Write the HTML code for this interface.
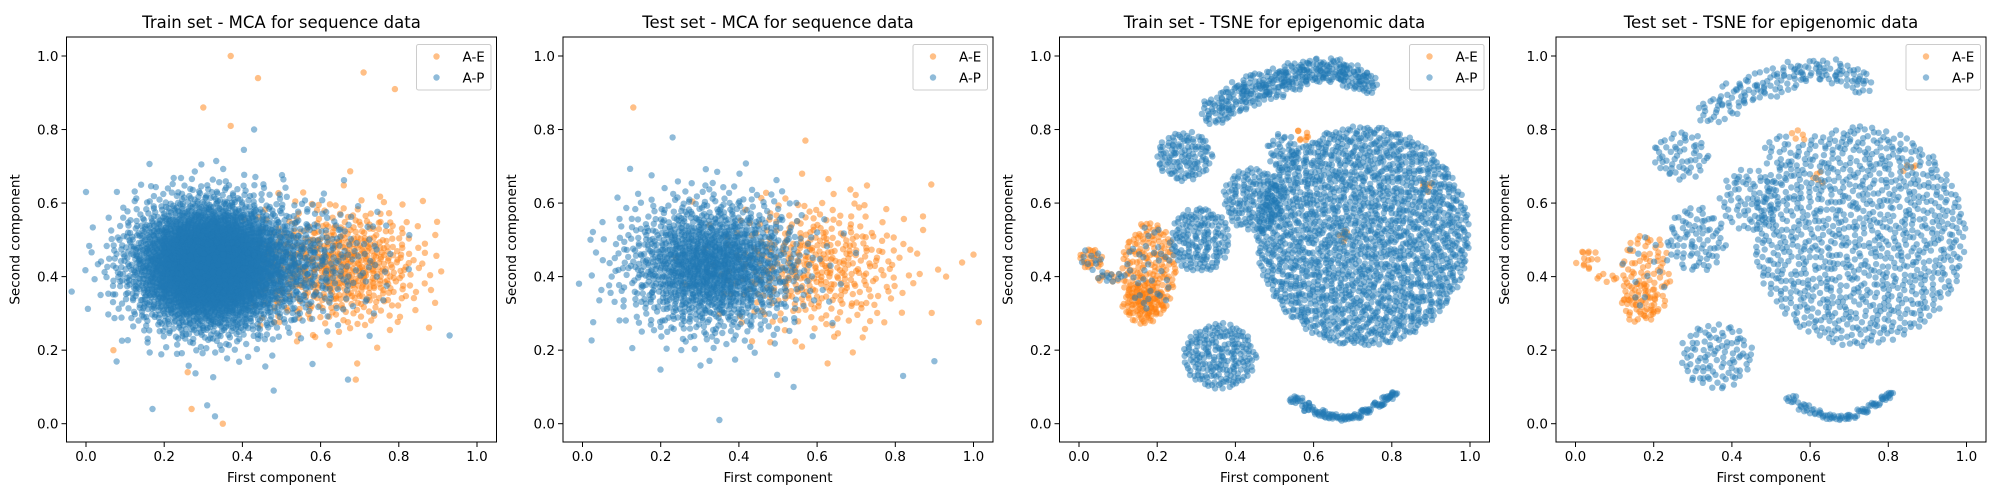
<!DOCTYPE html>
<html><head><meta charset="utf-8">
<style>
html,body{margin:0;padding:0;background:#fff;}
svg{display:block;font-family:"DejaVu Sans","Liberation Sans",sans-serif;}
</style></head>
<body>
<svg id="fig" width="2000" height="500" viewBox="0 0 2000 500"></svg>
<script>
// ---- data: clusters [cx, cy, sx/rx, sy/ry, count] ----
const panelTitles = ["Train set - MCA for sequence data","Test set - MCA for sequence data","Train set - TSNE for epigenomic data","Test set - TSNE for epigenomic data"];
const tickLabels = ["0.0","0.2","0.4","0.6","0.8","1.0"];
const tickValues = [0,0.2,0.4,0.6,0.8,1.0];
const seriesNames = ["A-E","A-P"];

// MCA (gaussian clusters)
const mcaTrainAE = [[0.68,0.43,0.09,0.08,460],[0.52,0.42,0.07,0.08,120]];
const mcaTrainAP = [[0.32,0.43,0.1,0.085,4200],[0.56,0.44,0.1,0.08,300]];
const mcaTrainAEOut = [[0.37,1.0],[0.44,0.94],[0.71,0.955],[0.79,0.91],[0.30,0.86],[0.37,0.81],[0.35,0.0],[0.27,0.04],[0.07,0.2],[0.26,0.14],[0.69,0.12]];
const mcaTrainAPOut = [[0.0,0.63],[0.17,0.04],[0.33,0.02],[0.43,0.8],[0.31,0.05],[0.48,0.09],[0.67,0.12],[0.93,0.24]];
const mcaTestAE = [[0.60,0.43,0.12,0.09,400]];
const mcaTestAP = [[0.33,0.43,0.11,0.09,1500]];
const mcaTestAEOut = [[1.0,0.46],[0.13,0.86],[0.57,0.77],[0.93,0.40]];
const mcaTestAPOut = [[0.35,0.01],[0.82,0.13],[0.90,0.17],[0.54,0.1]];

// TSNE (uniform ellipses)
const tsneTrainAE = [[0.18,0.42,0.07,0.13,180],[0.165,0.33,0.055,0.06,90],[0.03,0.447,0.03,0.03,25],[0.08,0.40,0.04,0.015,10],[0.57,0.78,0.02,0.02,8],[0.89,0.65,0.015,0.02,6],[0.68,0.51,0.015,0.02,6]];
const tsneTrainAP = [[0.35,0.85,0.04,0.04,40],[0.40,0.885,0.04,0.045,45],[0.45,0.91,0.04,0.045,45],[0.50,0.925,0.04,0.045,45],[0.55,0.945,0.04,0.04,45],[0.60,0.96,0.04,0.035,40],[0.65,0.96,0.04,0.035,40],[0.70,0.945,0.04,0.035,40],[0.735,0.925,0.03,0.03,25],
  [0.27,0.728,0.072,0.068,120],[0.445,0.61,0.077,0.086,160],[0.726,0.51,0.273,0.30,2000],[0.52,0.74,0.04,0.05,40],[0.309,0.50,0.077,0.09,170],[0.18,0.42,0.06,0.12,35],[0.03,0.447,0.03,0.03,10],[0.08,0.40,0.04,0.015,12],[0.36,0.184,0.094,0.09,210],
  [0.555,0.065,0.018,0.012,14],[0.585,0.045,0.018,0.012,14],[0.615,0.03,0.018,0.01,14],[0.645,0.02,0.018,0.008,14],[0.675,0.015,0.018,0.007,14],[0.705,0.02,0.018,0.007,14],[0.735,0.035,0.018,0.006,14],[0.765,0.052,0.018,0.006,14],[0.79,0.07,0.015,0.006,12],[0.805,0.082,0.01,0.005,8]];
const tsneTestAE = [[0.18,0.40,0.065,0.12,85],[0.165,0.33,0.05,0.06,40],[0.03,0.447,0.03,0.03,14],[0.09,0.40,0.04,0.015,8],[0.57,0.78,0.02,0.02,5],[0.62,0.67,0.02,0.02,5],[0.85,0.7,0.02,0.02,4]];
const tsneTestAP = [[0.35,0.85,0.04,0.04,18],[0.40,0.885,0.04,0.045,20],[0.45,0.91,0.04,0.045,20],[0.50,0.925,0.04,0.045,20],[0.55,0.945,0.04,0.04,20],[0.60,0.96,0.04,0.035,18],[0.65,0.96,0.04,0.035,18],[0.70,0.945,0.04,0.035,18],[0.735,0.925,0.03,0.03,12],
  [0.27,0.728,0.072,0.068,58],[0.445,0.61,0.077,0.086,75],[0.726,0.51,0.273,0.30,1000],[0.52,0.74,0.04,0.05,18],[0.309,0.50,0.077,0.09,85],[0.18,0.42,0.06,0.12,14],[0.36,0.184,0.094,0.09,100],
  [0.555,0.065,0.018,0.012,9],[0.585,0.045,0.018,0.012,9],[0.615,0.03,0.018,0.01,9],[0.645,0.02,0.018,0.008,9],[0.675,0.015,0.018,0.007,9],[0.705,0.02,0.018,0.007,10],[0.735,0.035,0.018,0.006,10],[0.765,0.052,0.018,0.006,10],[0.79,0.07,0.015,0.006,9],[0.805,0.082,0.01,0.005,6]];

// ---- rendering ----
const NS = "http://www.w3.org/2000/svg";
const svg = document.getElementById("fig");
const panelLeft = [66.5, 563, 1059.5, 1556];
const AX_W = 430, AX_TOP = 37, AX_BOT = 442;
const C_AE = "#ff7f0e", C_AP = "#1f77b4";
let hk = 1;
function halton(i,b){let f=1,r=0;while(i>0){f/=b;r+=f*(i%b);i=Math.floor(i/b);}return r;}
function mk(tag, attrs, parent){const e=document.createElementNS(NS,tag);for(const k in attrs)e.setAttribute(k,attrs[k]);(parent||svg).appendChild(e);return e;}

function xScale(p,v){return panelLeft[p]+19.5+v*391;}
function yScale(v){return 423.7-v*367.7;}

function clusterPoints(cl, kind){
  const pts=[];
  cl.forEach(c=>{
    for(let i=0;i<c[4];i++){
      const u1=halton(hk,2), u2=halton(hk,3); hk++;
      let dx,dy;
      if(kind==="g"){const r=Math.sqrt(-2*Math.log(Math.max(u1,1e-6)));dx=r*Math.cos(2*Math.PI*u2);dy=r*Math.sin(2*Math.PI*u2);}
      else{const r=Math.sqrt(u1);dx=r*Math.cos(2*Math.PI*u2);dy=r*Math.sin(2*Math.PI*u2);}
      pts.push([c[0]+dx*c[2], c[1]+dy*c[3]]);
    }
  });
  return pts;
}

function drawPanel(p, aeCl, apCl, aeOut, apOut, kind){
  const g = mk("g",{});
  
  
  const L = panelLeft[p];
  const clipId="clip"+p;
  const cp=mk("clipPath",{id:clipId},g);
  mk("rect",{x:L,y:AX_TOP,width:AX_W,height:AX_BOT-AX_TOP},cp);
  const pg = mk("g",{"clip-path":"url(#"+clipId+")"},g);
  
  
  const series=[[clusterPoints(aeCl,kind).concat(aeOut),C_AE,"ae"],[clusterPoints(apCl,kind).concat(apOut),C_AP,"ap"]];
  series.forEach(s=>{
    const sg=mk("g",{fill:s[1],"fill-opacity":0.5},pg);
    
    
    s[0].forEach(pt=>{
      mk("circle",{cx:xScale(p,pt[0]).toFixed(1),cy:yScale(pt[1]).toFixed(1),r:3.2},sg);
    });
  });
  const frame=mk("rect",{x:L,y:AX_TOP,width:AX_W,height:AX_BOT-AX_TOP,fill:"none",stroke:"#000","stroke-width":1},g);
  
  
  tickValues.forEach((v,i)=>{
    const x=xScale(p,v);
    mk("line",{x1:x,x2:x,y1:AX_BOT,y2:AX_BOT+5,stroke:"#000"},g);
    const tx=mk("text",{x:x,y:AX_BOT+19,"font-size":13.5,"text-anchor":"middle"},g);
    tx.textContent=tickLabels[i];
    
    
    const y=yScale(v);
    mk("line",{x1:L-5,x2:L,y1:y,y2:y,stroke:"#000"},g);
    const ty=mk("text",{x:L-8,y:y+5,"font-size":13.5,"text-anchor":"end"},g);
    ty.textContent=tickLabels[i];
    
    
  });
  const t=mk("text",{x:L+AX_W/2,y:28,"font-size":16.5,"text-anchor":"middle"},g);
  t.textContent=panelTitles[p];
  
  
  const xl=mk("text",{x:L+AX_W/2,y:482,"font-size":13.5,"text-anchor":"middle"},g);
  xl.textContent="First component";
  
  
  const yx=L-47, yy=(AX_TOP+AX_BOT)/2;
  const yl=mk("text",{x:yx,y:yy,"font-size":13.5,"text-anchor":"middle",transform:"rotate(-90 "+yx+" "+yy+")"},g);
  yl.textContent="Second component";
  
  
  const lg=mk("g",{},g);
  
  
  const R=L+AX_W;
  mk("rect",{x:R-80,y:44.5,width:74.5,height:45.5,rx:2,fill:"#fff","fill-opacity":0.8,stroke:"#ccc"},lg);
  [[C_AE,56.5],[C_AP,77.5]].forEach((e,i)=>{
    const m=mk("circle",{cx:R-60,cy:e[1],r:3.2,fill:e[0],"fill-opacity":0.5},lg);
    
    
    const lt=mk("text",{x:R-34,y:e[1]+5,"font-size":13.5},lg);
    lt.textContent=seriesNames[i];
    
    
  });
}
drawPanel(0, mcaTrainAE, mcaTrainAP, mcaTrainAEOut, mcaTrainAPOut, "g");
drawPanel(1, mcaTestAE, mcaTestAP, mcaTestAEOut, mcaTestAPOut, "g");
drawPanel(2, tsneTrainAE, tsneTrainAP, [], [], "u");
drawPanel(3, tsneTestAE, tsneTestAP, [], [], "u");
</script>
</body></html>
